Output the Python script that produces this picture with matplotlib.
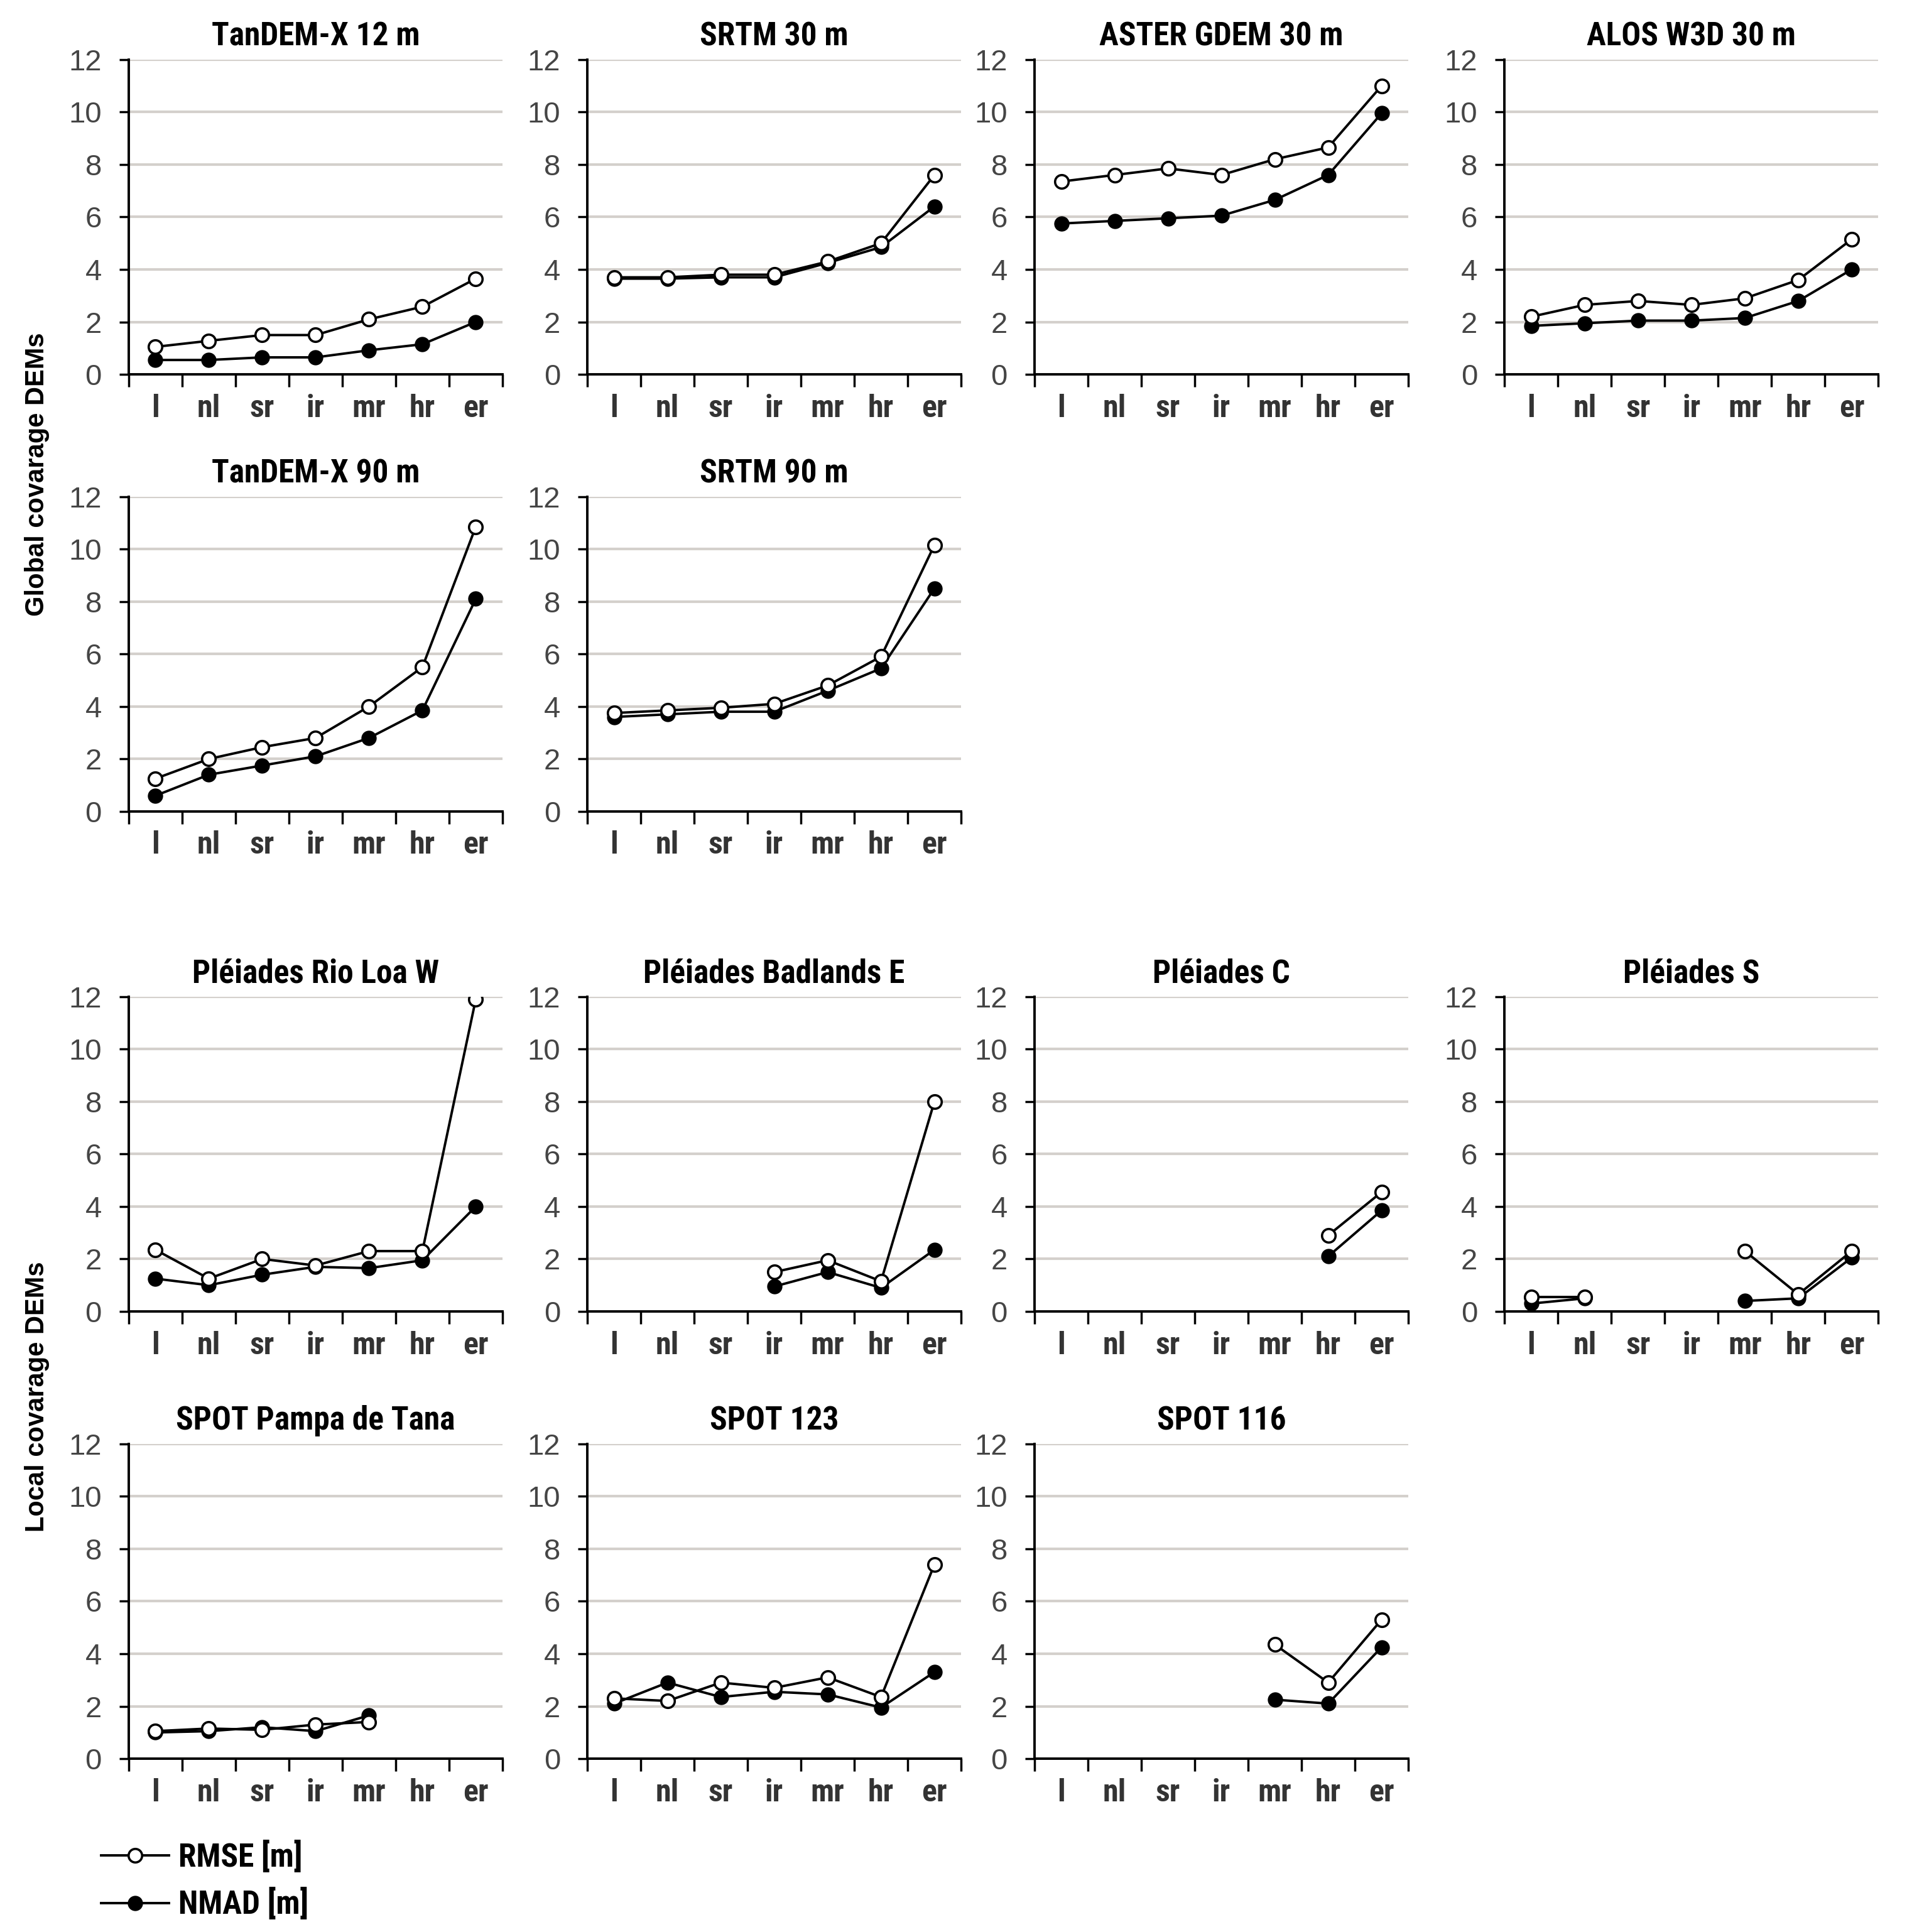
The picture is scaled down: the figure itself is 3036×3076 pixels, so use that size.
import numpy as np
import matplotlib
matplotlib.use("Agg")
import matplotlib.pyplot as plt
from matplotlib import font_manager

nan = np.nan

categories = ["l", "nl", "sr", "ir", "mr", "hr", "er"]
y_ticks = [0, 2, 4, 6, 8, 10, 12]
series_labels = ["RMSE [m]", "NMAD [m]"]
row_labels = ["Global covarage DEMs", "Local covarage DEMs"]

# global coverage DEMs
tdx12_rmse = [1.05, 1.28, 1.5, 1.5, 2.1, 2.58, 3.65]
tdx12_nmad = [0.55, 0.55, 0.65, 0.65, 0.92, 1.15, 2.0]
srtm30_rmse = [3.7, 3.7, 3.8, 3.8, 4.3, 5.0, 7.6]
srtm30_nmad = [3.65, 3.65, 3.7, 3.7, 4.25, 4.85, 6.4]
aster30_rmse = [7.35, 7.6, 7.85, 7.6, 8.2, 8.65, 11.0]
aster30_nmad = [5.75, 5.85, 5.95, 6.05, 6.65, 7.6, 9.95]
alos30_rmse = [2.2, 2.65, 2.8, 2.65, 2.9, 3.6, 5.15]
alos30_nmad = [1.85, 1.95, 2.05, 2.05, 2.15, 2.8, 4.0]
tdx90_rmse = [1.25, 2.0, 2.45, 2.8, 4.0, 5.5, 10.85]
tdx90_nmad = [0.6, 1.4, 1.75, 2.1, 2.8, 3.85, 8.1]
srtm90_rmse = [3.75, 3.85, 3.95, 4.1, 4.8, 5.9, 10.15]
srtm90_nmad = [3.6, 3.7, 3.8, 3.8, 4.6, 5.45, 8.5]

# local coverage DEMs
loa_rmse = [2.35, 1.25, 2.0, 1.75, 2.3, 2.3, 11.9]
loa_nmad = [1.25, 1.0, 1.4, 1.7, 1.65, 1.95, 4.0]
badlands_rmse = [nan, nan, nan, 1.5, 1.95, 1.15, 8.0]
badlands_nmad = [nan, nan, nan, 0.95, 1.5, 0.9, 2.35]
pleiades_c_rmse = [nan, nan, nan, nan, nan, 2.9, 4.55]
pleiades_c_nmad = [nan, nan, nan, nan, nan, 2.1, 3.85]
pleiades_s_rmse = [0.55, 0.55, nan, nan, 2.3, 0.65, 2.3]
pleiades_s_nmad = [0.3, 0.5, nan, nan, 0.4, 0.5, 2.05]
pampa_rmse = [1.05, 1.15, 1.1, 1.3, 1.4, nan, nan]
pampa_nmad = [1.0, 1.05, 1.2, 1.05, 1.65, nan, nan]
spot123_rmse = [2.3, 2.2, 2.9, 2.7, 3.1, 2.35, 7.4]
spot123_nmad = [2.1, 2.9, 2.35, 2.55, 2.45, 1.95, 3.3]
spot116_rmse = [nan, nan, nan, nan, 4.35, 2.9, 5.3]
spot116_nmad = [nan, nan, nan, nan, 2.25, 2.1, 4.25]

# (title, rmse, nmad, row, col)
panels = [
    ("TanDEM-X 12 m", tdx12_rmse, tdx12_nmad, 0, 0),
    ("SRTM 30 m", srtm30_rmse, srtm30_nmad, 0, 1),
    ("ASTER GDEM 30 m", aster30_rmse, aster30_nmad, 0, 2),
    ("ALOS W3D 30 m", alos30_rmse, alos30_nmad, 0, 3),
    ("TanDEM-X 90 m", tdx90_rmse, tdx90_nmad, 1, 0),
    ("SRTM 90 m", srtm90_rmse, srtm90_nmad, 1, 1),
    ("Pléiades Rio Loa W", loa_rmse, loa_nmad, 2, 0),
    ("Pléiades Badlands E", badlands_rmse, badlands_nmad, 2, 1),
    ("Pléiades C", pleiades_c_rmse, pleiades_c_nmad, 2, 2),
    ("Pléiades S", pleiades_s_rmse, pleiades_s_nmad, 2, 3),
    ("SPOT Pampa de Tana", pampa_rmse, pampa_nmad, 3, 0),
    ("SPOT 123", spot123_rmse, spot123_nmad, 3, 1),
    ("SPOT 116", spot116_rmse, spot116_nmad, 3, 2),
]

# layout in figure fractions
col_left = [0.0675, 0.308, 0.5425, 0.789]
row_bottom = [0.8062, 0.580, 0.3212, 0.0897]
ax_w = 0.196
ax_h = 0.163

installed = {f.name for f in font_manager.fontManager.ttflist}
narrow = "Liberation Sans"
for name in ["Liberation Sans Narrow", "Roboto Condensed", "Open Sans Condensed"]:
    if name in installed:
        narrow = name
        break

fig = plt.figure(figsize=(30.36, 30.76), dpi=100)
fig.patch.set_facecolor("white")

x = np.arange(len(categories)) + 0.5
handles = None

for title, rmse, nmad, row, col in panels:
    ax = fig.add_axes([col_left[col], row_bottom[row], ax_w, ax_h])
    nmad_line, = ax.plot(x, nmad, "-o", color="black", lw=2.8, ms=16,
                         mfc="black", mec="black", mew=1.5, zorder=3)
    rmse_line, = ax.plot(x, rmse, "-o", color="black", lw=2.8, ms=15.5,
                         mfc="white", mec="black", mew=2.6, zorder=4)
    if handles is None:
        handles = [rmse_line, nmad_line]

    ax.set_xlim(0, len(categories))
    ax.set_ylim(0, 12)
    ax.set_yticks(y_ticks)
    ax.set_xticks(range(len(categories) + 1))
    ax.set_xticklabels([])
    ax.set_xticks(x, minor=True)
    ax.set_xticklabels(categories, minor=True, fontsize=36, fontweight="bold",
                       family=narrow, color="#333333")
    for lbl in ax.get_yticklabels():
        lbl.set_family("Liberation Sans")
    ax.tick_params(axis="y", length=11, width=2.5, labelsize=34,
                   labelcolor="#454545", pad=20, direction="out")
    ax.tick_params(axis="x", which="major", length=14.5, width=2.5, direction="out")
    ax.tick_params(axis="x", which="minor", length=0, pad=22)

    ax.grid(axis="y", color="#d4d0cc", lw=3)
    ax.set_axisbelow(True)
    for side in ["top", "right"]:
        ax.spines[side].set_visible(False)
    for side in ["left", "bottom"]:
        ax.spines[side].set_linewidth(2.8)
        ax.spines[side].set_color("black")
    ax.set_facecolor("none")
    ax.set_title(title, fontsize=37, fontweight="bold", family=narrow, pad=16)

fig.text(0.0194, 0.7546, row_labels[0], rotation=90, ha="center", va="center",
         fontsize=30, fontweight="bold", family="Liberation Sans")
fig.text(0.0194, 0.277, row_labels[1], rotation=90, ha="center", va="center",
         fontsize=30, fontweight="bold", family="Liberation Sans")

fig.legend(handles, series_labels, loc="upper left", bbox_to_anchor=(0.053, 0.047),
           frameon=False, prop=dict(family=narrow, weight="bold", size=37),
           handlelength=2.1, handletextpad=0.3, labelspacing=0.45,
           borderpad=0, borderaxespad=0)

fig.savefig("out.png", dpi=100)
